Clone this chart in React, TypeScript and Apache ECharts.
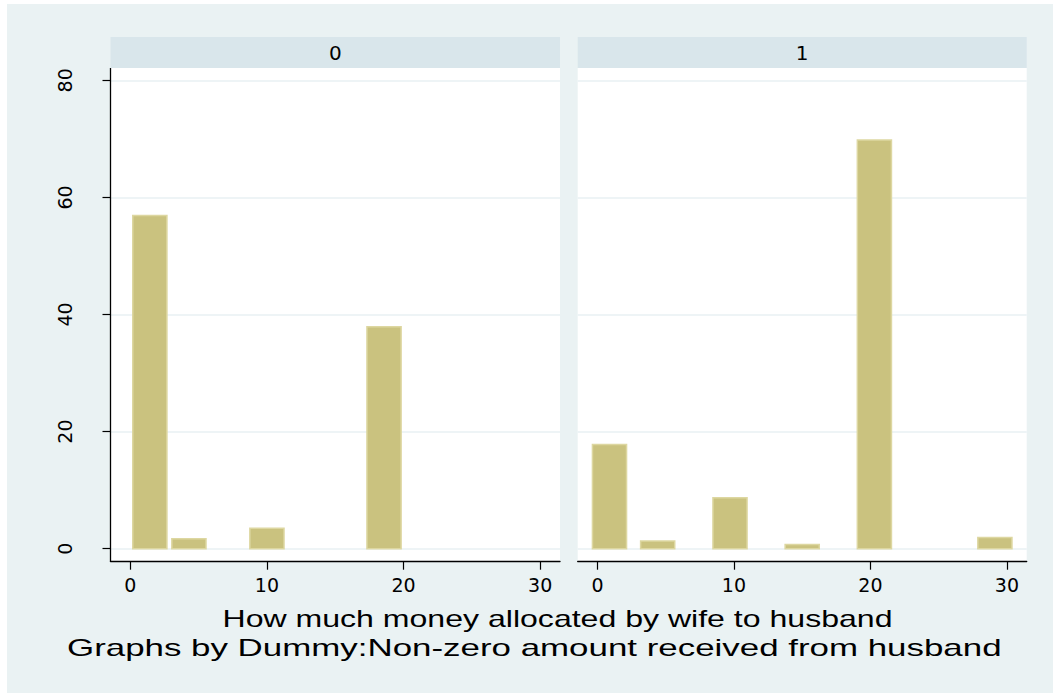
import React, { useEffect, useRef } from 'react';
import * as echarts from 'echarts';

// ---- data ----
const panelLabels = ['0', '1'];
const xTickValues = [0, 10, 20, 30];
const yTickValues = [0, 20, 40, 60, 80];
// panel "0": bin centres and percent
const binCenters0 = [1.43, 4.29, 10.0, 18.57];
const percent0 = [56.9, 1.7, 3.5, 37.9];
// panel "1": bin centres and percent
const binCenters1 = [0.88, 4.41, 9.71, 15.0, 20.29, 29.12];
const percent1 = [17.8, 1.3, 8.7, 0.7, 69.8, 1.9];
const xTitle = 'How much money allocated by wife to husband';
const noteText = 'Graphs by Dummy:Non-zero amount received from husband';

// ---- styles / layout ----
const BAR_W = 2.5;
const BAR_FILL = '#CAC27F';
const BAR_STROKE = '#DDD7A1';
const OUTER_BG = '#EAF2F3';
const STRIP_BG = '#D9E6EB';
const GRID_LINE = '#E8F0F3';
const TICK_FONT = 'DejaVu Sans';

const PANEL_TOP = 68;
const PANEL_BOTTOM = 561.7;
const ZERO_Y = 548.7;
const TOP_Y = 80.3;
const PANELS = [
  { left: 110.5, right: 560 },
  { left: 577.7, right: 1026.7 },
];

export default function App() {
  const ref = useRef<HTMLDivElement>(null);
  useEffect(() => {
    if (!ref.current) return;
    const chart = echarts.init(ref.current, undefined, { renderer: 'svg' });

    const renderBar = (params: any, api: any) => {
      const x = api.value(0);
      const y = api.value(1);
      const p0 = api.coord([x - BAR_W / 2, y]);
      const p1 = api.coord([x + BAR_W / 2, 0]);
      return {
        type: 'rect',
        shape: { x: p0[0], y: p0[1], width: p1[0] - p0[0], height: p1[1] - p0[1] },
        style: { fill: BAR_FILL, stroke: BAR_STROKE, lineWidth: 1.5 },
      };
    };

    const grids = PANELS.map((p) => ({
      left: p.left,
      top: TOP_Y,
      width: p.right - p.left,
      height: ZERO_Y - TOP_Y,
      containLabel: false,
    }));

    const xAxes = PANELS.map((_, i) => ({
      type: 'value',
      gridIndex: i,
      min: -1.45,
      max: 31.45,
      position: 'bottom',
      offset: PANEL_BOTTOM - ZERO_Y,
      axisLine: { show: true, onZero: false, lineStyle: { color: '#000', width: 1.3 } },
      axisTick: { show: true, length: 8, customValues: xTickValues, lineStyle: { color: '#000', width: 1.2 } },
      axisLabel: {
        show: true,
        customValues: xTickValues,
        fontSize: 19,
        fontFamily: TICK_FONT,
        color: '#000',
        margin: 13.5,
      },
      splitLine: { show: false },
    }));

    const yAxes = PANELS.map((_, i) => ({
      type: 'value',
      gridIndex: i,
      min: 0,
      max: 80,
      interval: 20,
      position: 'left',
      axisLine: { show: false, onZero: false },
      axisTick: { show: i === 0, length: 8, lineStyle: { color: '#000', width: 1.2 } },
      axisLabel: {
        show: i === 0,
        rotate: 90,
        fontSize: 19,
        fontFamily: TICK_FONT,
        color: '#000',
        margin: 36.5,
      },
      splitLine: { show: true, lineStyle: { color: GRID_LINE, width: 1.5 } },
    }));

    const textEl = (text: string, x: number, y: number, size: number, align: string, scaleX = 1, family = TICK_FONT) => ({
      type: 'text',
      x,
      y,
      scaleX,
      z: 10,
      style: {
        text,
        fontSize: size,
        fontFamily: family,
        fill: '#000',
        align,
        textAlign: align,
        verticalAlign: 'middle',
        textVerticalAlign: 'middle',
      },
    });

    const graphics: any[] = [
      { type: 'rect', z: -20, shape: { x: 7, y: 4, width: 1046, height: 689 }, style: { fill: OUTER_BG } },
    ];
    PANELS.forEach((p, i) => {
      graphics.push({
        type: 'rect', z: -10,
        shape: { x: p.left, y: PANEL_TOP, width: p.right - p.left, height: PANEL_BOTTOM - PANEL_TOP },
        style: { fill: '#fff' },
      });
      graphics.push({
        type: 'rect', z: -10,
        shape: { x: p.left, y: 37, width: p.right - p.left, height: PANEL_TOP - 37 },
        style: { fill: STRIP_BG },
      });
      graphics.push(textEl(panelLabels[i], (p.left + p.right) / 2, 52.5, 20, 'center'));
    });
    graphics.push({
      type: 'line', z: 10,
      shape: { x1: PANELS[0].left, y1: PANEL_TOP, x2: PANELS[0].left, y2: PANEL_BOTTOM },
      style: { stroke: '#000', lineWidth: 1.3 },
    });
    graphics.push(textEl(xTitle, 557.5, 618.7, 24, 'center', 1.336, 'Liberation Sans'));
    graphics.push(textEl(noteText, 67, 648, 24, 'left', 1.454, 'Liberation Sans'));

    chart.setOption({
      animation: false,
      backgroundColor: '#fff',
      grid: grids,
      xAxis: xAxes,
      yAxis: yAxes,
      graphic: { elements: graphics },
      series: [
        {
          type: 'custom',
          xAxisIndex: 0,
          yAxisIndex: 0,
          renderItem: renderBar,
          data: binCenters0.map((c, k) => [c, percent0[k]]),
          z: 3,
        },
        {
          type: 'custom',
          xAxisIndex: 1,
          yAxisIndex: 1,
          renderItem: renderBar,
          data: binCenters1.map((c, k) => [c, percent1[k]]),
          z: 3,
        },
      ],
    });
    return () => chart.dispose();
  }, []);
  return (
    <div
      ref={ref}
      style={{ position: 'absolute', left: 0, top: 0, width: 1053, height: 693 }}
    />
  );
}
